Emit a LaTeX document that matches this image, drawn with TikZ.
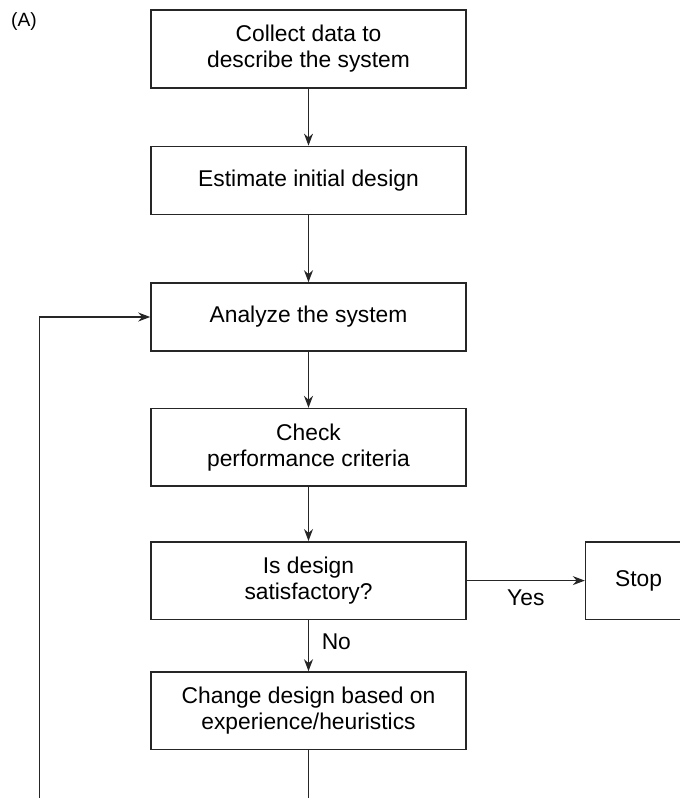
\documentclass[tikz,border=0pt]{standalone}
\usepackage{fontspec}
\setmainfont{Liberation Sans}
\usetikzlibrary{arrows.meta, positioning}

\begin{document}
\begin{tikzpicture}[
    font=\fontsize{11.4}{13}\selectfont,
    box/.style={draw=black!85, line width=0.8pt, align=center, inner sep=0pt,
                minimum width=157.5pt},
    onebox/.style={box, minimum height=34pt},
    twobox/.style={box, minimum height=38.8pt},
    arrow/.style={-{Stealth[length=6pt, width=4.5pt]}, line width=0.6pt, draw=black!85}
]
\clip (0,0) rectangle (340pt,-399pt);

% Label
\node (tag) at (12pt,-11pt) {\fontsize{9.6}{11}\selectfont (A)};

% Main column
\node[twobox] (collect) at (154.25pt,-24.5pt) {Collect data to\\ describe the system};
\node[onebox, below=28.5pt of collect] (estimate) {Estimate initial design};
\node[onebox, below=33.5pt of estimate] (analyze) {Analyze the system};
\node[twobox, below=28pt of analyze] (check) {Check\\ performance criteria};
\node[twobox, below=27pt of check] (decide) {Is design\\ satisfactory?};
\node[twobox, below=25.5pt of decide] (change) {Change design based on\\ experience/heuristics};

% Exit
\node[box, minimum width=53pt, minimum height=38.8pt, right=59pt of decide] (stop) {Stop};

\draw[arrow] (collect) -- (estimate);
\draw[arrow] (estimate) -- (analyze);
\draw[arrow] (analyze) -- (check);
\draw[arrow] (check) -- (decide);
\draw[arrow] (decide) -- node[below, yshift=-1pt] {Yes} (stop);
\draw[arrow] (decide) -- node[right, xshift=3pt, yshift=2pt] {No} (change);

% Loop back
\coordinate (low) at (154.25pt,-420pt);
\coordinate (back) at (19.75pt,-420pt);
\draw[arrow] (change) -- (low) -- (back) |- (analyze);

\end{tikzpicture}
\end{document}
